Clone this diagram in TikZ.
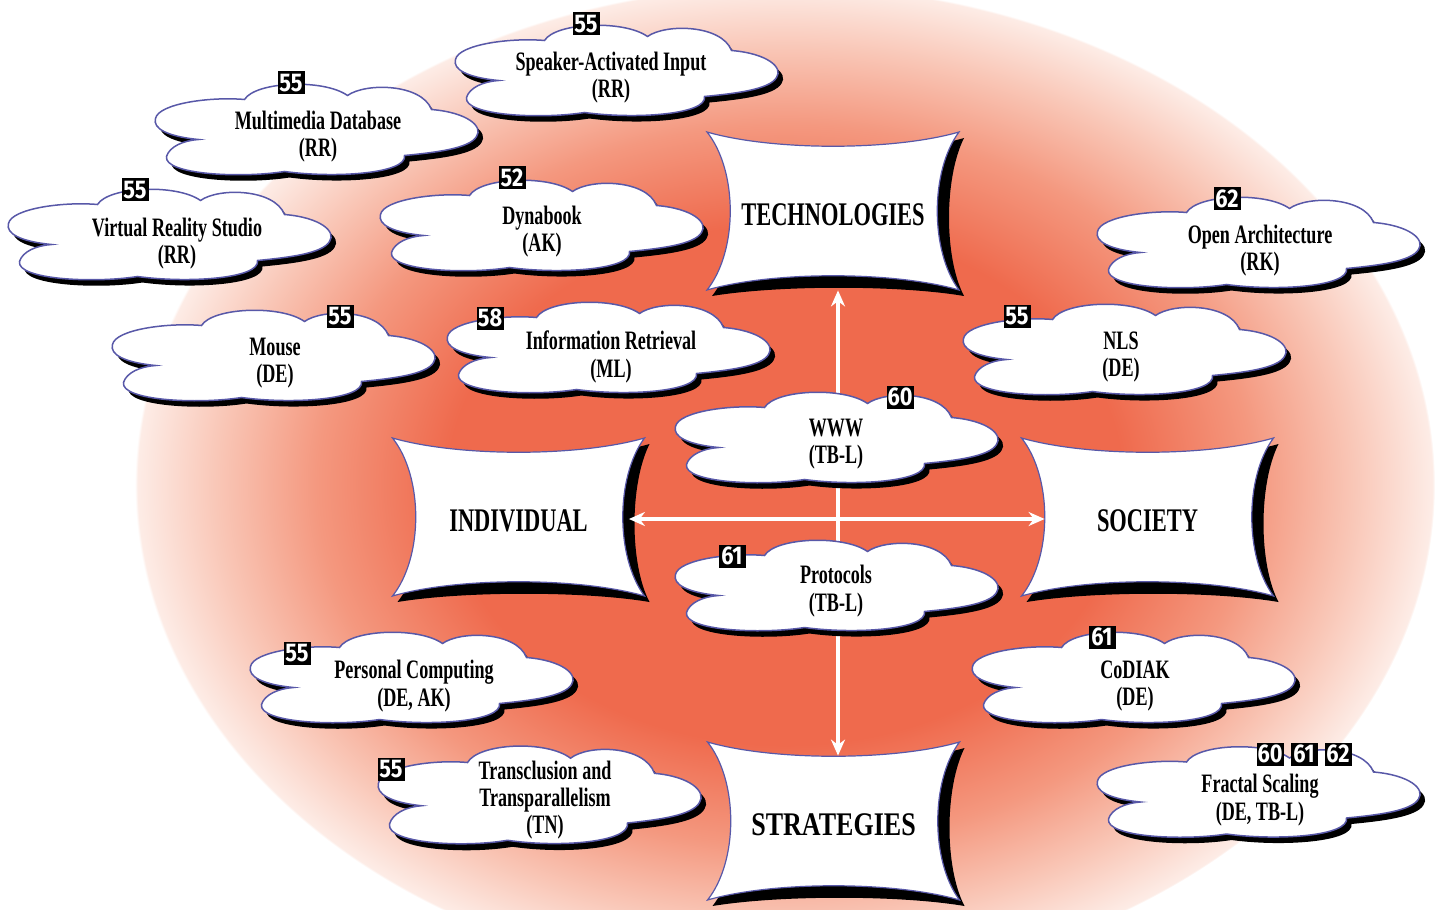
\documentclass[tikz,border=0pt]{standalone}
\usepackage{fontspec}
\setmainfont{Liberation Serif}
\newfontfamily\labelfont[FakeStretch=0.68]{Liberation Serif}
\newfontfamily\badgefont[FakeStretch=0.85]{Fira Sans}
\usetikzlibrary{arrows.meta}

\definecolor{bgred}{RGB}{239,106,77}
\definecolor{bgmid}{RGB}{244,152,127}
\definecolor{bgpale}{RGB}{249,198,182}
\definecolor{bgedge}{RGB}{253,236,230}
\definecolor{edgeblue}{RGB}{88,88,168}

% radial glow behind the whole scheme (edge of the ellipse = 25bp)
\pgfdeclareradialshading{glow}{\pgfpoint{0bp}{0bp}}{%
  color(0bp)=(bgred); color(13bp)=(bgred); color(18bp)=(bgmid);
  color(21.8bp)=(bgpale); color(24.9bp)=(bgedge); color(25bp)=(white);
  color(50bp)=(white)}

% cloud outline, local pixel coordinates, y pointing down
\newcommand\cloudoutline{(-117,9)
  .. controls (-148,6) and (-163,-2) .. (-160,-12)
  .. controls (-157,-27) and (-105,-34) .. (-71,-31)
  .. controls (-60,-49) and (8,-52) .. (32,-35)
  .. controls (50,-48) and (106,-47) .. (116,-21)
  .. controls (152,-18) and (168,-4) .. (161,6)
  .. controls (154,18) and (120,22) .. (89,25)
  .. controls (92,43) and (20,48) .. (-31,41)
  .. controls (-75,48) and (-152,44) .. (-149,26)
  .. controls (-146,16) and (-132,10) .. (-117,9) -- cycle}

% concave "cushion" panel and its heavier drop shadow
\newcommand\cushionoutline{(-126,-79)
  .. controls (-60,-60) and (60,-60) .. (126,-79)
  .. controls (97,-40) and (97,40) .. (126,79)
  .. controls (60,60) and (-60,60) .. (-126,79)
  .. controls (-95,40) and (-95,-40) .. (-126,-79) -- cycle}
\newcommand\cushionshadow{(-121,-73)
  .. controls (-54,-54) and (66,-54) .. (131,-73)
  .. controls (111,-33) and (111,47) .. (131,85)
  .. controls (66,74) and (-54,74) .. (-121,85)
  .. controls (-90,46) and (-90,-34) .. (-121,-73) -- cycle}

\begin{document}
\begin{tikzpicture}[x=0.5pt,y=-0.5pt,
  pics/cloud/.style={code={
    \fill[black,shift={(5,6)}] \cloudoutline;
    \filldraw[fill=white,draw=edgeblue,line width=0.75pt] \cloudoutline;
  }},
  pics/cushion/.style={code={
    \fill[black] \cushionshadow;
    \filldraw[fill=white,draw=edgeblue,line width=0.6pt] \cushionoutline;
  }},
  cloudtext/.style={align=center,inner sep=0pt,
    font=\fontsize{13.3}{13.6}\selectfont\labelfont\bfseries},
  boxtext/.style={inner sep=0pt,minimum width=110pt,minimum height=75pt,
    font=\fontsize{16.5}{18}\selectfont\labelfont\bfseries},
  badge/.style={fill=black,text=white,inner sep=0pt,
    minimum width=13.5pt,minimum height=11.5pt,
    font=\fontsize{12.8}{12.8}\selectfont\badgefont\bfseries},
  arr/.style={draw=white,line width=2pt,
    {Stealth[length=8pt,width=7pt]}-{Stealth[length=8pt,width=7pt]}}
]
\useasboundingbox (0,0) rectangle (1438,909);
\clip (0,0) rectangle (1438,909);

% background glow
\shade[shading=glow] (785,485) ellipse [x radius=325pt, y radius=250pt];

% the four panels
\coordinate (techc)  at (833,211);
\coordinate (indivc) at (518.5,517);
\coordinate (socc)   at (1147.5,517);
\coordinate (stratc) at (833.5,821);
\coordinate (hub)    at (838,519);
\pic at (techc)  {cushion};
\pic at (indivc) {cushion};
\pic at (socc)   {cushion};
\pic at (stratc) {cushion};
\node[boxtext] (tech)  at ([yshift=-2] techc)  {TECHNOLOGIES};
\node[boxtext] (indiv) at ([yshift=-2] indivc) {INDIVIDUAL};
\node[boxtext] (soc)   at ([yshift=-2] socc)   {SOCIETY};
\node[boxtext] (strat) at ([yshift=-2] stratc) {\scalebox{1.16}[1]{STRATEGIES}};

% axes between the panels
\draw[arr,shorten >=-3pt] (tech.south -| hub) -- (strat.north -| hub);
\draw[arr,shorten >=-3.75pt] (indiv.east |- hub) -- (soc.west |- hub);

% clouds
\pic at (615.5,71.5) {cloud};
\node[cloudtext] (speaker) at (611,78) {Speaker-Activated Input\\(RR)};
\node[badge] (b1) at (586,24) {55};

\pic at (315.5,130.5) {cloud};
\node[cloudtext] (mmdb) at (318,137) {Multimedia Database\\(RR)};
\node[badge] (b2) at (291,83) {55};

\pic at (168.5,235.5) {cloud};
\node[cloudtext] (vrs) at (177,244) {Virtual Reality Studio\\(RR)};
\node[badge] (b3) at (135,190) {55};

\pic at (540.5,226.5) {cloud};
\node[cloudtext] (dyna) at (542,232) {Dynabook\\(AK)};
\node[badge] (b4) at (512,178) {52};

\pic at (1257.5,243.5) {cloud};
\node[cloudtext] (openarch) at (1260,251) {Open Architecture\\(RK)};
\node[badge] (b7) at (1227,199) {62};

\pic at (272.5,356.5) {cloud};
\node[cloudtext] (mouse) at (275,363) {Mouse\\(DE)};
\node[badge] (b5) at (340,316) {55};

\pic at (607.5,348.5) {cloud};
\node[cloudtext] (infret) at (611,357) {Information Retrieval\\(ML)};
\node[badge] (b6) at (490,318) {58};

\pic at (1123.5,350.5) {cloud};
\node[cloudtext] (nls) at (1121,357) {NLS\\(DE)};
\node[badge] (b8) at (1017,316) {55};

\pic at (835.5,438.5) {cloud};
\node[cloudtext] (www) at (836,444) {WWW\\(TB-L)};
\node[badge] (b9) at (900,397) {60};

\pic at (835.5,586.5) {cloud};
\node[cloudtext] (proto) at (836,591) {Protocols\\(TB-L)};
\node[badge] (b10) at (732,556) {61};

\pic at (410.5,678.5) {cloud};
\node[cloudtext] (pc) at (414,686) {Personal Computing\\(DE, AK)};
\node[badge] (b11) at (297,653) {55};

\pic at (1132.5,678.5) {cloud};
\node[cloudtext] (codiak) at (1135,686) {CoDIAK\\(DE)};
\node[badge] (b12) at (1102,637) {61};

\pic[yscale=1.08] at (538.5,796) {cloud};
\node[cloudtext] (transcl) at (545,800) {Transclusion and\\Transparallelism\\(TN)};
\node[badge] (b13) at (391,769) {55};

\pic at (1257.5,793) {cloud};
\node[cloudtext] (fractal) at (1260,800) {Fractal Scaling\\(DE, TB-L)};
\node[badge] (b14) at (1270,754) {60};
\node[badge] (b15) at (1304,754) {61};
\node[badge] (b16) at (1338,754) {62};
\end{tikzpicture}
\end{document}
